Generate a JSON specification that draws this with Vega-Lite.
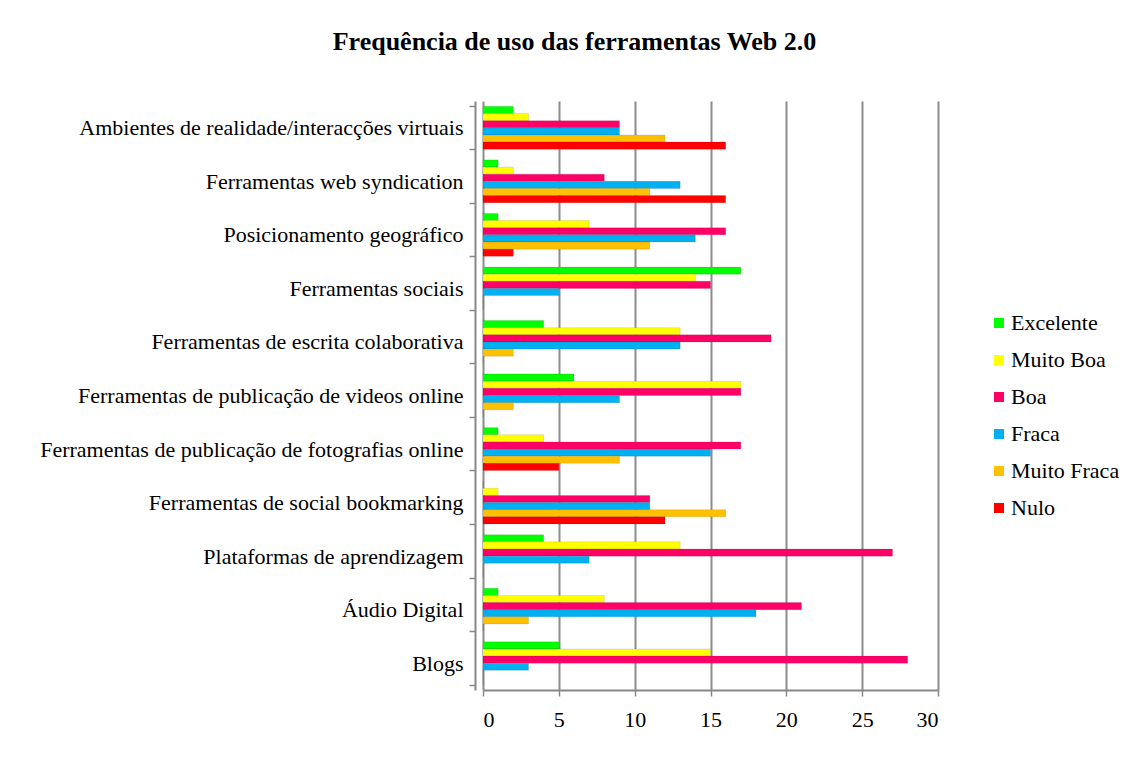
{
  "$schema": "https://vega.github.io/schema/vega-lite/v6.json",
  "autosize": {"type": "none"},
  "padding": {"left": 483, "top": 101, "right": 191, "bottom": 72},
  "width": 455,
  "height": 589,
  "background": "white",
  "title": {
    "text": "Frequência de uso das ferramentas Web 2.0",
    "font": "Liberation Serif",
    "fontSize": 26,
    "fontWeight": "bold",
    "color": "black",
    "anchor": "middle",
    "offset": 35,
    "dx": -136
  },
  "data": {
    "values": [
      {"c": "Ambientes de realidade/interacções virtuais", "s": "Excelente", "v": 2},
      {"c": "Ambientes de realidade/interacções virtuais", "s": "Muito Boa", "v": 3},
      {"c": "Ambientes de realidade/interacções virtuais", "s": "Boa", "v": 9},
      {"c": "Ambientes de realidade/interacções virtuais", "s": "Fraca", "v": 9},
      {"c": "Ambientes de realidade/interacções virtuais", "s": "Muito Fraca", "v": 12},
      {"c": "Ambientes de realidade/interacções virtuais", "s": "Nulo", "v": 16},
      {"c": "Ferramentas web syndication", "s": "Excelente", "v": 1},
      {"c": "Ferramentas web syndication", "s": "Muito Boa", "v": 2},
      {"c": "Ferramentas web syndication", "s": "Boa", "v": 8},
      {"c": "Ferramentas web syndication", "s": "Fraca", "v": 13},
      {"c": "Ferramentas web syndication", "s": "Muito Fraca", "v": 11},
      {"c": "Ferramentas web syndication", "s": "Nulo", "v": 16},
      {"c": "Posicionamento geográfico", "s": "Excelente", "v": 1},
      {"c": "Posicionamento geográfico", "s": "Muito Boa", "v": 7},
      {"c": "Posicionamento geográfico", "s": "Boa", "v": 16},
      {"c": "Posicionamento geográfico", "s": "Fraca", "v": 14},
      {"c": "Posicionamento geográfico", "s": "Muito Fraca", "v": 11},
      {"c": "Posicionamento geográfico", "s": "Nulo", "v": 2},
      {"c": "Ferramentas sociais", "s": "Excelente", "v": 17},
      {"c": "Ferramentas sociais", "s": "Muito Boa", "v": 14},
      {"c": "Ferramentas sociais", "s": "Boa", "v": 15},
      {"c": "Ferramentas sociais", "s": "Fraca", "v": 5},
      {"c": "Ferramentas sociais", "s": "Muito Fraca", "v": 0},
      {"c": "Ferramentas sociais", "s": "Nulo", "v": 0},
      {"c": "Ferramentas de escrita colaborativa", "s": "Excelente", "v": 4},
      {"c": "Ferramentas de escrita colaborativa", "s": "Muito Boa", "v": 13},
      {"c": "Ferramentas de escrita colaborativa", "s": "Boa", "v": 19},
      {"c": "Ferramentas de escrita colaborativa", "s": "Fraca", "v": 13},
      {"c": "Ferramentas de escrita colaborativa", "s": "Muito Fraca", "v": 2},
      {"c": "Ferramentas de escrita colaborativa", "s": "Nulo", "v": 0},
      {"c": "Ferramentas de publicação de videos online", "s": "Excelente", "v": 6},
      {"c": "Ferramentas de publicação de videos online", "s": "Muito Boa", "v": 17},
      {"c": "Ferramentas de publicação de videos online", "s": "Boa", "v": 17},
      {"c": "Ferramentas de publicação de videos online", "s": "Fraca", "v": 9},
      {"c": "Ferramentas de publicação de videos online", "s": "Muito Fraca", "v": 2},
      {"c": "Ferramentas de publicação de videos online", "s": "Nulo", "v": 0},
      {"c": "Ferramentas de publicação de fotografias online", "s": "Excelente", "v": 1},
      {"c": "Ferramentas de publicação de fotografias online", "s": "Muito Boa", "v": 4},
      {"c": "Ferramentas de publicação de fotografias online", "s": "Boa", "v": 17},
      {"c": "Ferramentas de publicação de fotografias online", "s": "Fraca", "v": 15},
      {"c": "Ferramentas de publicação de fotografias online", "s": "Muito Fraca", "v": 9},
      {"c": "Ferramentas de publicação de fotografias online", "s": "Nulo", "v": 5},
      {"c": "Ferramentas de social bookmarking", "s": "Excelente", "v": 0},
      {"c": "Ferramentas de social bookmarking", "s": "Muito Boa", "v": 1},
      {"c": "Ferramentas de social bookmarking", "s": "Boa", "v": 11},
      {"c": "Ferramentas de social bookmarking", "s": "Fraca", "v": 11},
      {"c": "Ferramentas de social bookmarking", "s": "Muito Fraca", "v": 16},
      {"c": "Ferramentas de social bookmarking", "s": "Nulo", "v": 12},
      {"c": "Plataformas de aprendizagem", "s": "Excelente", "v": 4},
      {"c": "Plataformas de aprendizagem", "s": "Muito Boa", "v": 13},
      {"c": "Plataformas de aprendizagem", "s": "Boa", "v": 27},
      {"c": "Plataformas de aprendizagem", "s": "Fraca", "v": 7},
      {"c": "Plataformas de aprendizagem", "s": "Muito Fraca", "v": 0},
      {"c": "Plataformas de aprendizagem", "s": "Nulo", "v": 0},
      {"c": "Áudio Digital", "s": "Excelente", "v": 1},
      {"c": "Áudio Digital", "s": "Muito Boa", "v": 8},
      {"c": "Áudio Digital", "s": "Boa", "v": 21},
      {"c": "Áudio Digital", "s": "Fraca", "v": 18},
      {"c": "Áudio Digital", "s": "Muito Fraca", "v": 3},
      {"c": "Áudio Digital", "s": "Nulo", "v": 0},
      {"c": "Blogs", "s": "Excelente", "v": 5},
      {"c": "Blogs", "s": "Muito Boa", "v": 15},
      {"c": "Blogs", "s": "Boa", "v": 28},
      {"c": "Blogs", "s": "Fraca", "v": 3},
      {"c": "Blogs", "s": "Muito Fraca", "v": 0},
      {"c": "Blogs", "s": "Nulo", "v": 0}
    ]
  },
  "mark": {"type": "bar", "stroke": "#00000033", "strokeWidth": 0.5},
  "encoding": {
    "y": {
      "field": "c",
      "type": "nominal",
      "sort": null,
      "scale": {"paddingInner": 0.2, "paddingOuter": 0.1},
      "axis": {
        "title": null,
        "tickBand": "extent",
        "offset": 8,
        "labelFont": "Liberation Serif",
        "labelFontSize": 22,
        "labelColor": "black",
        "labelPadding": 6,
        "labelLimit": 600,
        "domainColor": "#888888",
        "domainWidth": 2,
        "tickColor": "#888888",
        "tickWidth": 1.5,
        "tickSize": 6
      }
    },
    "yOffset": {
      "field": "s",
      "type": "nominal",
      "sort": ["Excelente", "Muito Boa", "Boa", "Fraca", "Muito Fraca", "Nulo"],
      "scale": {"paddingInner": 0, "paddingOuter": 0}
    },
    "x": {
      "field": "v",
      "type": "quantitative",
      "scale": {"domain": [0, 30], "nice": false},
      "axis": {
        "title": null,
        "values": [0, 5, 10, 15, 20, 25, 30],
        "grid": true,
        "gridColor": "#8c8c8c",
        "gridWidth": 2,
        "labelFont": "Liberation Serif",
        "labelFontSize": 22,
        "labelColor": "black",
        "labelPadding": 13,
        "domainColor": "#888888",
        "domainWidth": 2,
        "tickColor": "#888888",
        "tickWidth": 1.5,
        "tickSize": 6
      }
    },
    "color": {
      "field": "s",
      "type": "nominal",
      "sort": ["Excelente", "Muito Boa", "Boa", "Fraca", "Muito Fraca", "Nulo"],
      "scale": {
        "domain": ["Excelente", "Muito Boa", "Boa", "Fraca", "Muito Fraca", "Nulo"],
        "range": ["#00FF00", "#FFFF00", "#FF0066", "#00B0F0", "#FFC000", "#FF0000"]
      },
      "legend": {
        "title": null,
        "orient": "none",
        "legendX": 505,
        "legendY": 211,
        "symbolType": "square",
        "symbolSize": 100,
        "symbolStrokeWidth": 0,
        "labelFont": "Liberation Serif",
        "labelFontSize": 22,
        "labelColor": "black",
        "labelOffset": 1,
        "rowPadding": 15
      }
    }
  },
  "config": {
    "view": {"stroke": null}
  }
}
